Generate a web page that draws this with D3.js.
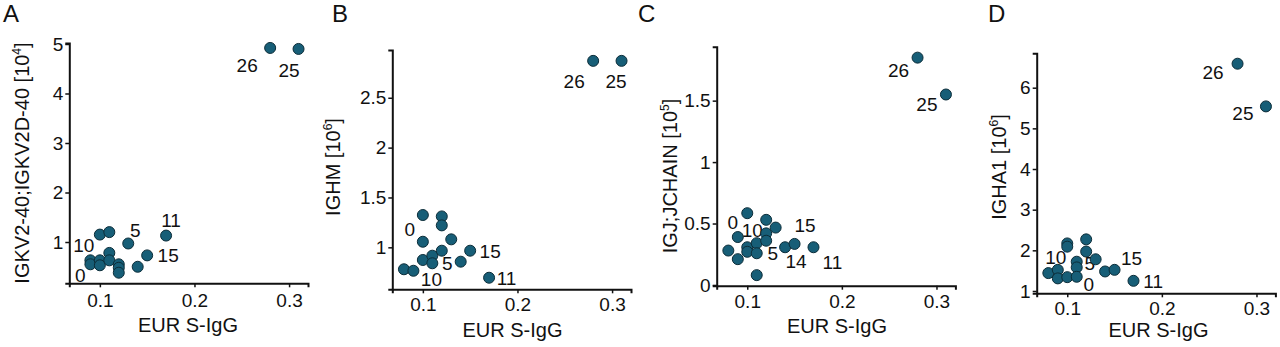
<!DOCTYPE html>
<html>
<head>
<meta charset="utf-8">
<script src="https://cdn.jsdelivr.net/npm/d3@7"></script>
<style>
  body { margin: 0; background: #fff; }
  svg { display: block; font-family: "Liberation Sans", Arial, sans-serif; }
</style>
</head>
<body>
<svg id="chart" width="1280" height="347"></svg>
<script>
// shared x axis: EUR S-IgG
const xTicks = [0.1, 0.2, 0.3];
const xDomain = [0.0677, 0.32];

// A: IGKV2-40;IGKV2D-40 [10^4]
const xA = [0.09, 0.09, 0.10, 0.10, 0.10, 0.11, 0.11, 0.11, 0.12, 0.12, 0.12, 0.13, 0.14, 0.15, 0.17, 0.28, 0.31];
const yA = [0.63, 0.55, 1.15, 0.63, 0.53, 1.20, 0.78, 0.63, 0.55, 0.48, 0.38, 0.97, 0.50, 0.73, 1.13, 4.92, 4.90];
const labA = ["", "0", "10", "", "", "", "", "", "", "", "", "5", "", "15", "11", "26", "25"];
const yTicksA = [1, 2, 3, 4, 5];

// B: IGHM [10^6]
const xB = [0.08, 0.09, 0.10, 0.10, 0.10, 0.11, 0.11, 0.12, 0.12, 0.12, 0.13, 0.14, 0.15, 0.17, 0.28, 0.31];
const yB = [0.78, 0.765, 1.324, 1.056, 0.873, 0.916, 0.84, 1.31, 1.22, 0.966, 1.08, 0.856, 0.966, 0.695, 2.87, 2.87];
const labB = ["", "10", "0", "", "", "", "5", "", "", "", "", "", "15", "11", "26", "25"];
const yTicksB = [1, 1.5, 2, 2.5];

// C: IGJ;JCHAIN [10^5]
const xC = [0.08, 0.09, 0.09, 0.10, 0.10, 0.10, 0.11, 0.11, 0.11, 0.12, 0.12, 0.12, 0.13, 0.14, 0.15, 0.17, 0.28, 0.31];
const yC = [0.28, 0.39, 0.21, 0.584, 0.307, 0.27, 0.34, 0.258, 0.08, 0.53, 0.42, 0.36, 0.467, 0.307, 0.334, 0.307, 1.85, 1.55];
const labC = ["", "0", "", "", "10", "", "", "5", "", "", "", "", "", "14", "15", "11", "26", "25"];
const yTicksC = [0, 0.5, 1, 1.5];

// D: IGHA1 [10^6]
const xD = [0.08, 0.09, 0.09, 0.10, 0.10, 0.10, 0.11, 0.11, 0.11, 0.12, 0.12, 0.13, 0.14, 0.15, 0.17, 0.28, 0.31];
const yD = [1.44, 1.52, 1.31, 2.17, 2.09, 1.34, 1.72, 1.58, 1.35, 2.27, 1.97, 1.78, 1.48, 1.52, 1.25, 6.59, 5.54];
const labD = ["", "10", "", "", "", "", "", "5", "0", "", "", "", "", "15", "11", "26", "25"];
const yTicksD = [1, 2, 3, 4, 5, 6];

// layout per panel (pixels), label nudges mimic the repel placement
const panels = [
    {tag: "A", x: xA, y: yA, lab: labA, yTicks: yTicksA, yDomain: [0.166, 5.02],
     left: 69.3, top: 43, bottom: 283.3, tagX: 3, yTitle: ["IGKV2-40;IGKV2D-40 [10", "4", "]"],
     yTitleX: 21.5, yTitleY: 163, xTitleX: 188, xTitleY: 332, xPad: 6.5,
     nudge: {"0": [-10, 11], "10": [-16, 11], "5": [7, -13], "15": [21, 0], "11": [5, -15], "26": [-23, 17], "25": [-9.5, 21]}},
    {tag: "B", x: xB, y: yB, lab: labB, yTicks: yTicksB, yDomain: [0.579, 2.979],
     left: 392.3, top: 50, bottom: 289.3, tagX: 332, yTitle: ["IGHM [10", "6", "]"],
     yTitleX: 332.5, yTitleY: 167, xTitleX: 512.5, xTitleY: 336.5, xPad: 4.5,
     nudge: {"0": [-13, 14], "5": [15, 0], "10": [18, 8], "15": [20, 0], "11": [17.5, 0], "26": [-19, 20], "25": [-5.5, 20]}},
    {tag: "C", x: xC, y: yC, lab: labC, yTicks: yTicksC, yDomain: [-0.006, 1.939],
     left: 716.7, top: 46.7, bottom: 285.7, tagX: 638, yTitle: ["IGJ;JCHAIN [10", "5", "]"],
     yTitleX: 669.5, yTitleY: 176, xTitleX: 837, xTitleY: 332.5, xPad: 5,
     nudge: {"0": [-5, -15], "10": [5, -17], "15": [10.5, -19], "5": [16, 0], "14": [11, 14], "11": [19, 14.5], "26": [-19, 12.5], "25": [-19, 9.5]}},
    {tag: "D", x: xD, y: yD, lab: labD, yTicks: yTicksD, yDomain: [0.943, 6.846],
     left: 1036.7, top: 53.3, bottom: 293.3, tagX: 988, yTitle: ["IGHA1 [10", "6", "]"],
     yTitleX: 999, yTitleY: 167, xTitleX: 1158.5, xTitleY: 337, xPad: 4.5,
     nudge: {"10": [-2, -13], "5": [13, -4], "0": [12, 7], "15": [17, -11.6], "11": [19.7, 0], "26": [-24.5, 8.6], "25": [-23, 6.3]}}
];

const plotWidth = 238.7;
const pointFill = "#175e77";
const pointStroke = "#0c2d39";
const ink = "#111";

const svg = d3.select("#chart");

panels.forEach(p => {
    const x = d3.scaleLinear().domain(xDomain).range([p.left, p.left + plotWidth]);
    const y = d3.scaleLinear().domain(p.yDomain).range([p.bottom, p.top]);
    const g = svg.append("g");

    // panel tag
    g.append("text")
        .attr("x", p.tagX).attr("y", 22)
        .attr("font-size", 24).attr("fill", ink)
        .text(p.tag);

    // axes
    const xAxis = g.append("g")
        .attr("transform", `translate(0,${p.bottom})`)
        .call(d3.axisBottom(x).tickValues(xTicks).tickFormat(d => String(d))
            .tickSizeOuter(0).tickSize(4).tickPadding(p.xPad));
    const yAxis = g.append("g")
        .attr("transform", `translate(${p.left},0)`)
        .call(d3.axisLeft(y).tickValues(p.yTicks).tickFormat(d => String(d))
            .tickSizeOuter(0).tickSize(4).tickPadding(2));
    [xAxis, yAxis].forEach(a => {
        a.attr("font-family", null).attr("font-size", 19);
        a.select(".domain").attr("stroke", ink).attr("stroke-width", 2);
        a.selectAll(".tick line").attr("stroke", ink).attr("stroke-width", 1.5);
        a.selectAll(".tick text").attr("fill", ink);
    });

    // axis titles
    g.append("text")
        .attr("x", p.xTitleX).attr("y", p.xTitleY)
        .attr("text-anchor", "middle").attr("font-size", 20).attr("fill", ink)
        .text("EUR S-IgG");

    const yt = g.append("text")
        .attr("transform", `translate(${p.yTitleX},${p.yTitleY}) rotate(-90)`)
        .attr("text-anchor", "middle").attr("dy", "0.36em")
        .attr("font-size", 20).attr("fill", ink);
    yt.append("tspan").text(p.yTitle[0]);
    yt.append("tspan").attr("font-size", 12).attr("dy", -8).text(p.yTitle[1]);
    yt.append("tspan").attr("dy", 8).text(p.yTitle[2]);

    const pts = p.x.map((v, i) => ({x: v, y: p.y[i], lab: p.lab[i]}));

    // sample labels (drawn under points)
    g.selectAll("text.lab")
        .data(pts.filter(d => d.lab !== ""))
        .join("text")
        .attr("class", "lab")
        .attr("x", d => x(d.x) + p.nudge[d.lab][0])
        .attr("y", d => y(d.y) + p.nudge[d.lab][1])
        .attr("dy", "0.36em")
        .attr("text-anchor", "middle")
        .attr("font-size", 19).attr("fill", ink)
        .text(d => d.lab);

    g.selectAll("circle")
        .data(pts)
        .join("circle")
        .attr("cx", d => x(d.x))
        .attr("cy", d => y(d.y))
        .attr("r", 5.5)
        .attr("fill", pointFill)
        .attr("stroke", pointStroke)
        .attr("stroke-width", 1);
});
</script>
</body>
</html>
